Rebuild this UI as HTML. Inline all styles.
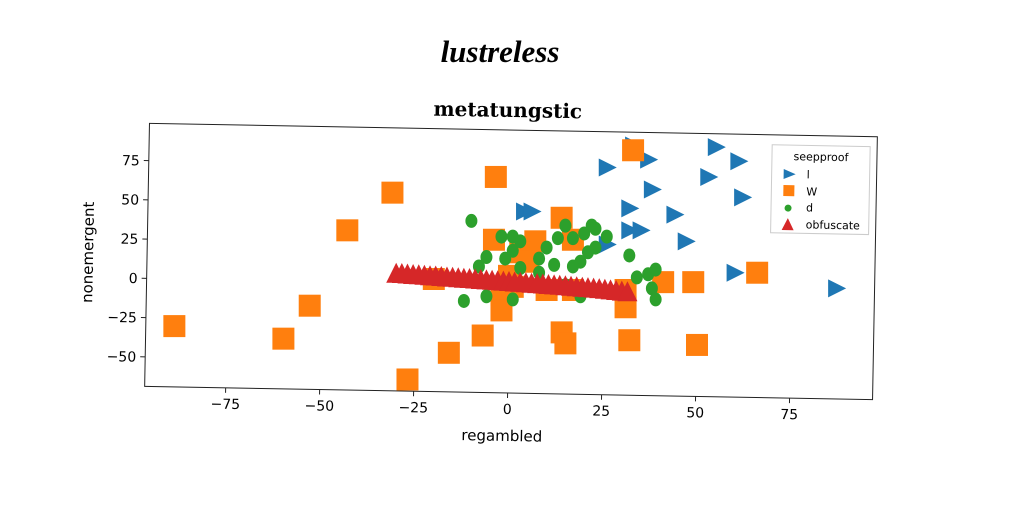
<!DOCTYPE html>
<html><head><meta charset="utf-8"><style>
html,body{margin:0;padding:0;background:#fff;}
svg{display:block;}
text{font-family:"DejaVu Sans","Liberation Sans",sans-serif;}
</style></head><body>
<svg id="chart" width="1024" height="512" viewBox="0 0 1024 512">
<text x="500" y="62" text-anchor="middle" font-size="31" font-weight="bold" font-style="italic" style="font-family:'Liberation Serif',serif">lustreless</text>
<g id="plot" transform="rotate(1.05 510 262)">
<text x="505" y="117" text-anchor="middle" font-size="20" font-weight="bold" style="font-family:'DejaVu Serif','Liberation Serif',serif">metatungstic</text>
<rect x="147" y="130" width="728" height="263" fill="none" stroke="#222" stroke-width="1"/>
<g id="axes"></g>
<text x="505" y="441" text-anchor="middle" font-size="15">regambled</text>
<text transform="translate(93 260) rotate(-90)" text-anchor="middle" font-size="15">nonemergent</text>
</g>
<g id="marks"></g>
<g transform="rotate(1.05 510 262)">
<rect x="770" y="140" width="98" height="88" fill="#fff" fill-opacity="0.85" stroke="#ccc"/>
<text x="819" y="155" text-anchor="middle" font-size="11">seepproof</text>
<path d="M782,164 L794,169 L782,174Z" fill="#1f77b4"/>
<text x="805" y="173" font-size="11">l</text>
<rect x="782" y="180" width="11" height="11" fill="#ff7f0e"/>
<text x="805" y="190" font-size="11">W</text>
<circle cx="787" cy="203" r="3.5" fill="#2ca02c"/>
<text x="805" y="206" font-size="11">d</text>
<path d="M781,225 L787,213 L793,225Z" fill="#d62728"/>
<text x="805" y="223" font-size="11">obfuscate</text>
</g>
</svg>
<script>
const xTicks = [-75, -50, -25, 0, 25, 50, 75];
const yTicks = [-50, -25, 0, 25, 50, 75];
const lX = [33,37,55,61,26,53,38,62,4,6,32,44,32,35,47,60,87,26];
const lY = [85,76,84,75,71,65,57,52,43,43,45,41,31,31,24,4,-6,22];
const wX = [33,-3.5,-31,-43,14,-4,7,17,3,5,41,49,66,-20,-2,10,17,31,31,-2,-53,-89,-60,-7,14,15,32,50,-16,-27,0,1];
const wY = [82,65,55,31,39,25,24,25,17,11,-2,-2,4,0,-10,-7,-7,-7,-18,-20,-17,-30,-38,-36,-34,-41,-39,-42,-47,-64,2,-5];
const dX = [-10,-2,1,3,10,13,15,17,20,22,23,26,23,21,19,17,12,8,1,-1,-6,-8,-6,-12,15,19,25,32,37,38,39,34,39,1,3,8];
const dY = [37,27,27,24,20,26,34,26,29,34,32,27,20,17,11,8,9,13,18,13,14,8,-11,-14,-4,-11,-8,15,3,-6,-13,1,6,-13,7,4];
const oX = [-30,-28.5,-27,-25.5,-24,-22.5,-21,-19.5,-18,-16.5,-15,-13.5,-12,-10.5,-9,-7.5,-6,-4.5,-3,-1.5,0,1.5,3,4.5,6,7.5,9,10.5,12,13.5,15,16.5,18,19.5,21,22.5,24,25.5,27,28.5,30,31.5];
const oY = [4,3.8,3.5,3.2,3,2.7,2.4,2.2,1.9,1.6,1.4,1.1,0.8,0.6,0.3,0,-0.2,-0.5,-0.8,-1,-1.3,-1.6,-1.8,-2.1,-2.4,-2.6,-2.9,-3.2,-3.4,-3.7,-4,-4.3,-4.6,-4.9,-5.2,-5.5,-5.8,-6.2,-6.6,-7,-7.4,-7.8];

const NS = 'http://www.w3.org/2000/svg';
// axis scales (inside rotated frame)
function ax(v){ return 510 + v * 3.76; }
function ay(v){ return 285 - v * 1.57; }
// screen scales for marks
function sx(v){ return 509 + v * 3.76; }
function sy(v){ return 279 - v * 1.57; }
const marks = document.getElementById('marks');
const axes = document.getElementById('axes');
function mk(tag, attrs, parent){ const e = document.createElementNS(NS, tag); for (const k in attrs) e.setAttribute(k, attrs[k]); parent.appendChild(e); return e; }

xTicks.forEach(t => {
  const g = mk('g', {}, axes);
  
  
  mk('line', {x1: ax(t), x2: ax(t), y1: 393, y2: 398, stroke: '#222'}, g);
  const tx = mk('text', {x: ax(t), y: 414, 'text-anchor': 'middle', 'font-size': 14}, g);
  tx.textContent = t < 0 ? '\u2212' + Math.abs(t) : String(t);
});
yTicks.forEach(t => {
  const g = mk('g', {}, axes);
  
  
  mk('line', {x1: 142, x2: 147, y1: ay(t), y2: ay(t), stroke: '#222'}, g);
  const tx = mk('text', {x: 138, y: ay(t) + 5, 'text-anchor': 'end', 'font-size': 14}, g);
  tx.textContent = t < 0 ? '\u2212' + Math.abs(t) : String(t);
});
lX.forEach((v, i) => {
  const x = sx(v), y = sy(lY[i]);
  const p = mk('path', {d: `M${x-8},${y-9} L${x+10},${y} L${x-8},${y+9}Z`, fill: '#1f77b4'}, marks);
  
  
});
wX.forEach((v, i) => {
  const x = sx(v), y = sy(wY[i]);
  const p = mk('rect', {x: x-11, y: y-11, width: 22, height: 22, fill: '#ff7f0e'}, marks);
  
  
});
dX.forEach((v, i) => {
  const p = mk('ellipse', {cx: sx(v), cy: sy(dY[i]), rx: 6, ry: 7, fill: '#2ca02c'}, marks);
  
  
});
oX.forEach((v, i) => {
  const x = sx(v), y = sy(oY[i]);
  const p = mk('path', {d: `M${x-10},${y+10} L${x},${y-10} L${x+10},${y+10}Z`, fill: '#d62728'}, marks);
  
  
});
</script>
</body></html>
